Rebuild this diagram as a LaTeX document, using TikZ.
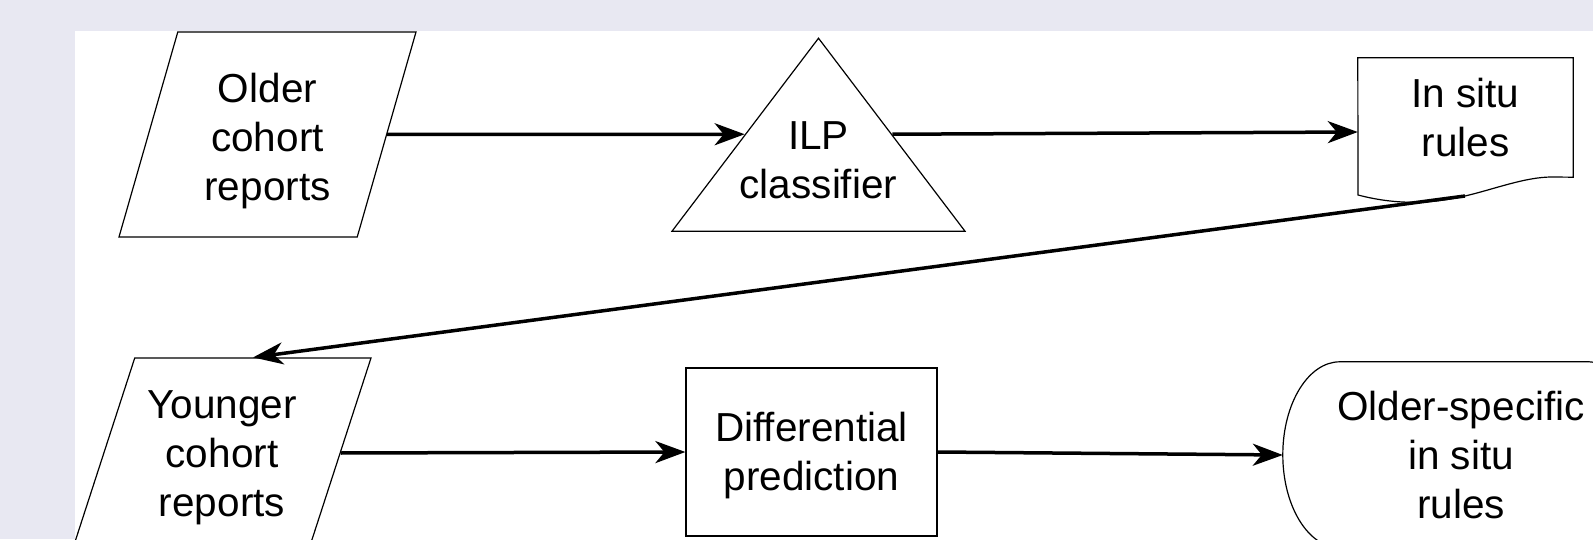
\documentclass[tikz,border=0pt]{standalone}
\usepackage{fontspec}
\setmainfont{Liberation Sans}
\usetikzlibrary{shapes.geometric,arrows.meta}
\definecolor{pagebg}{RGB}{232,232,242}

\begin{document}
\begin{tikzpicture}[x=1pt, y=1pt,
  every node/.style={font=\fontsize{40.5}{49}\selectfont, align=center, inner sep=0pt},
  box/.style={draw, line width=1.2pt},
  datain/.style={box, trapezium, trapezium stretches body, inner xsep=0pt, inner ysep=102.5pt, minimum width=297pt, trapezium left angle=74, trapezium right angle=106},
  flow/.style={line width=3.5pt, -{Stealth[length=30pt, width=22pt, inset=9pt]}}]
  \useasboundingbox (0,0) rectangle (1593,539);
  \clip (0,0) rectangle (1593,539);
  \fill[pagebg] (0,0) rectangle (1593,539);
  \fill[white] (75,0) rectangle (1593,508);

  \node[datain, label={[name=older-text, yshift=-6.5pt]center:{Older\\cohort\\reports}}] (older) at (267.5,404.5) {};
  \node[box, isosceles triangle, isosceles triangle stretches, shape border rotate=90, minimum width=293pt, minimum height=193pt,
    label={[name=ilp-text, yshift=-1.5pt]center:{ILP\\classifier}}] (ilp) at (818.5,380.5) {};
  \node[minimum width=215pt, minimum height=119pt] (insitu) at (1465.5,421.5) {In situ\\rules};
  \draw[box] (insitu.south east) -- (1552,362) .. controls (1525,362) and (1495,350) .. (1465,343) coordinate (insitu-foot)
    .. controls (1435,336) and (1400,333) .. (1358,344) -- (insitu.north west) -- (insitu.north east) -- cycle;

  \node[datain, inner ysep=95pt, minimum width=298pt, trapezium left angle=72, trapezium right angle=108,
    label={[name=younger-text, yshift=-5pt]center:{Younger\\cohort\\reports}}] (younger) at (222,86) {};
  \node[box, minimum width=251pt, minimum height=168pt,
    label={[name=diff-text, yshift=-4pt]center:{Differential\\prediction}}] (diff) at (811.5,87) {};
  \node[minimum width=356pt, minimum height=186pt] (osr) at (1461,84) {Older-specific\\in situ\\rules};
  \draw[box, rounded corners=18pt] ([xshift=57pt]osr.south west) -- ([xshift=-32pt]osr.south east) -- ([xshift=-32pt]osr.north east) -- ([xshift=57pt]osr.north west);
  \draw[box] ([xshift=57pt]osr.north west) arc[start angle=90, end angle=270, x radius=57pt, y radius=93pt];

  \draw[flow] (older.east) -- (ilp.left side);
  \draw[flow] (ilp.right side) -- ([yshift=-14.5pt]insitu.west);
  \draw[flow] (insitu-foot) -- (younger.top side);
  \draw[flow] (younger.east) -- (diff.west);
  \draw[flow] (diff.east) -- (osr.west);
\end{tikzpicture}
\end{document}
